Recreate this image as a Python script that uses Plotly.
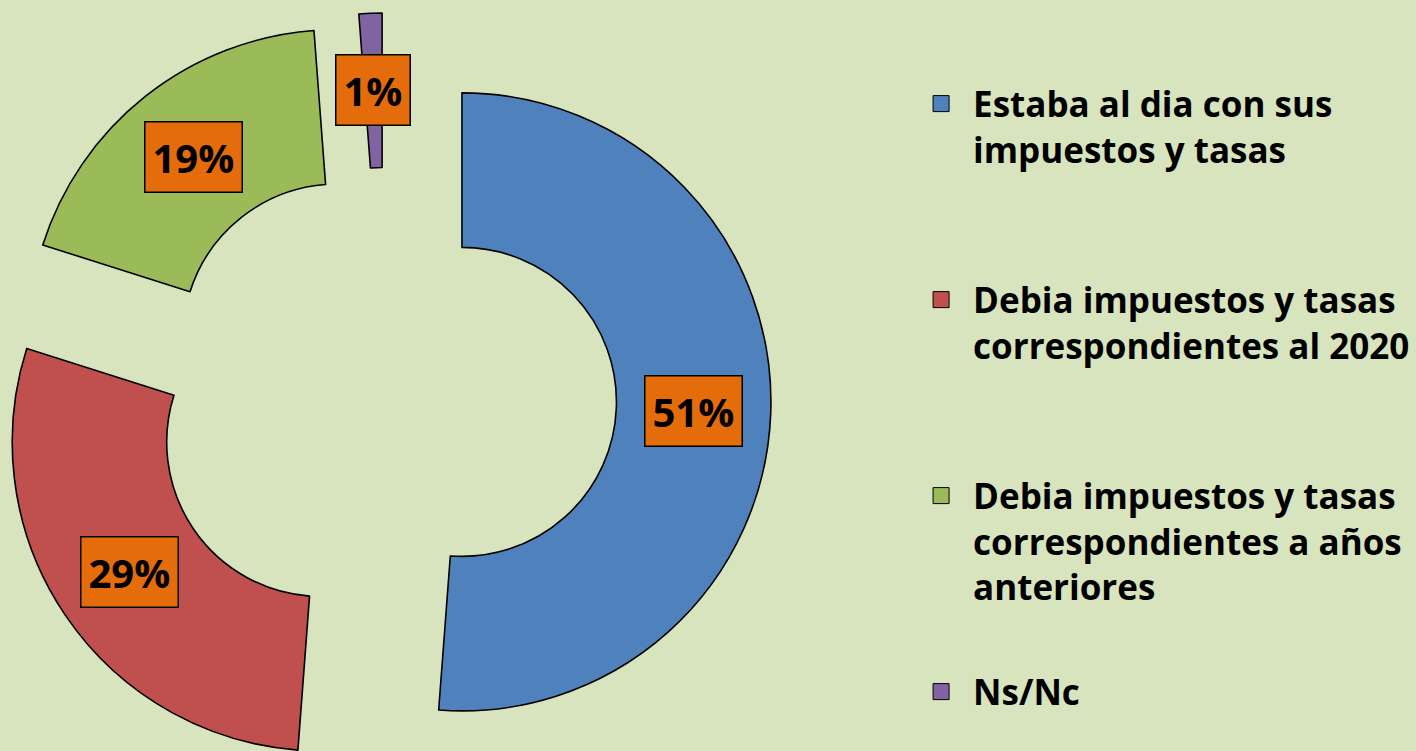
import math
import plotly.graph_objects as go

LABELS = [
    'Estaba al dia con sus<br>impuestos y tasas',
    'Debia impuestos y tasas<br>correspondientes al 2020',
    'Debia impuestos y tasas<br>correspondientes a años<br>anteriores',
    'Ns/Nc',
]
VALUES = [51.2, 28.7, 18.9, 1.2]
COLORS = ['#4F81BD', '#C0504D', '#9BBB59', '#8064A2']

BG = '#D7E4BD'
LABEL_BG = '#E46C0A'
W, H = 1416, 751

# exploded doughnut geometry, in pixels
CX, CY = 385, 399
RADIUS = 309
PULL = 77
HOLE = 0.5


def slice_mids(values):
    total = sum(values)
    mids = []
    cum = 0
    for v in values:
        mids.append((cum + v / 2) / total * 360)
        cum += v
    return mids


fig = go.Figure()
total = sum(VALUES)
mids = slice_mids(VALUES)

for i, mid in enumerate(mids):
    a = math.radians(mid)
    # each slice gets its own pie, shifted out along its bisector
    px = CX + PULL * math.sin(a)
    py = CY - PULL * math.cos(a)
    dom_x = [max(0, (px - RADIUS) / W), min(1, (px + RADIUS) / W)]
    dom_y = [max(0, 1 - (py + RADIUS) / H), min(1, 1 - (py - RADIUS) / H)]

    colors = [c if j == i else 'rgba(0,0,0,0)' for j, c in enumerate(COLORS)]
    widths = [1.6 if j == i else 0 for j in range(len(COLORS))]

    fig.add_trace(go.Pie(values=VALUES, labels=LABELS, hole=HOLE, sort=False,
                         direction='clockwise', rotation=0,
                         marker=dict(colors=colors, line=dict(color='black', width=widths)),
                         textinfo='none', showlegend=False,
                         domain=dict(x=dom_x, y=dom_y)))

    r_mid = RADIUS * (1 + HOLE) / 2
    lx = px + r_mid * math.sin(a)
    ly = py - r_mid * math.cos(a)
    fig.add_annotation(x=lx / W, y=1 - ly / H, xref='paper', yref='paper',
                       xanchor='center', yanchor='middle',
                       text=f'{round(VALUES[i] / total * 100)}%', showarrow=False,
                       font=dict(family='Open Sans', size=40, color='black', weight='bold'),
                       bgcolor=LABEL_BG, bordercolor='black', borderwidth=1.5, borderpad=7)

# legend entries, padded to the same height so they sit evenly spaced
for i, lab in enumerate(LABELS):
    text = lab
    if i < len(LABELS) - 1:
        n_lines = lab.count('<br>') + 1
        text = lab + '<br>\u00a0' * (4 - n_lines)
    fig.add_trace(go.Scatter(x=[None], y=[None], mode='markers', name=text,
                             legendgroup=f'g{i}',
                             marker=dict(symbol='square', size=18, color=COLORS[i],
                                         line=dict(color='black', width=1))))

fig.update_layout(
    width=W, height=H,
    margin=dict(l=0, r=0, t=0, b=0),
    paper_bgcolor=BG, plot_bgcolor=BG,
    xaxis=dict(visible=False), yaxis=dict(visible=False),
    legend=dict(x=0.642, y=0.901, xanchor='left', yanchor='top',
                bgcolor='rgba(0,0,0,0)', valign='top', itemwidth=54,
                traceorder='grouped', tracegroupgap=11,
                font=dict(family='Open Sans', size=35, color='black', weight='bold')),
)

fig.write_html('out.html', config={'displayModeBar': False},
               post_script="document.body.style.margin = '0';")
